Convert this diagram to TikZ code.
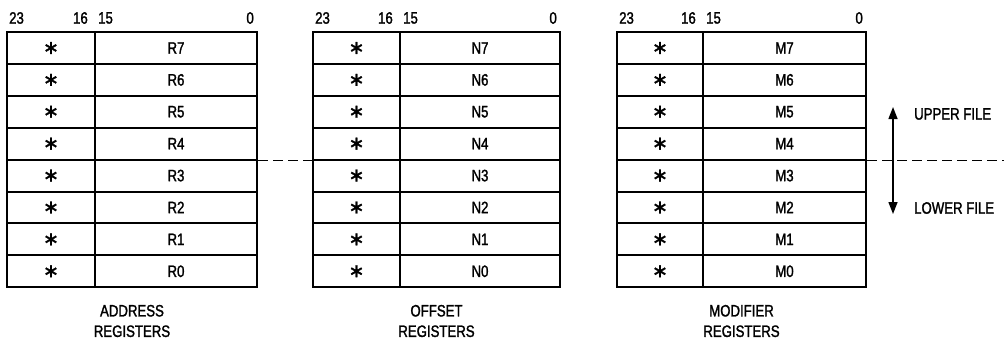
\documentclass[tikz,border=0pt]{standalone}
\usepackage{fontspec}
\setmainfont{Liberation Sans}[FakeStretch=0.8, FakeBold=1.5]
\newfontfamily\symfont{DejaVu Sans}[FakeBold=1.5]
\usetikzlibrary{arrows.meta}
\tikzset{
  cell/.style={draw, line width=2pt, inner sep=0pt, minimum height=31.9pt, font=\fontsize{16.5}{16.5}\selectfont},
  bitlbl/.style={inner sep=0pt, font=\fontsize{16.5}{16.5}\selectfont},
  caption/.style={inner sep=0pt, align=center, font=\fontsize{16.5}{20.5}\selectfont},
  filelbl/.style={inner sep=0pt, anchor=west, font=\fontsize{16.5}{16.5}\selectfont},
  divider/.style={line width=1.5pt, dash pattern=on 10pt off 5pt},
  bothway/.style={line width=1.4pt, {Triangle[length=12pt,width=9pt]}-{Triangle[length=12pt,width=9pt]}}
}
\newcommand\starmark{{\symfont\fontsize{19}{19}\selectfont ∗}}
% #1 prefix, #2 left, #3 divider, #4 right, #5 letter, #6 caption
\newcommand\regfile[6]{%
  \foreach \i in {0,...,7} {
    \pgfmathsetmacro\yc{32+(7-\i)*31.9+15.95}
    \node[cell, minimum width={#3-#2}] (#1s\i) at ({(#2+#3)/2},\yc) {\starmark};
    \node[cell, minimum width={#4-#3}] (#1r\i) at ({(#3+#4)/2},\yc) {#5\i};
  }
  \node[bitlbl, anchor=west] (#1b23) at (#2+2,18) {23};
  \node[bitlbl, anchor=east] (#1b16) at (#3-7,18) {16};
  \node[bitlbl, anchor=west] (#1b15) at (#3+3,18) {15};
  \node[bitlbl, anchor=east] (#1b0) at (#4-3,18) {0};
  \node[caption] (#1cap) at ({(#2+#4)/2},321) {#6};
}
\begin{document}
\begin{tikzpicture}[x=1pt,y=-1pt]
\useasboundingbox (0,0) rectangle (1004,341);
\regfile{a}{7}{95}{257}{R}{ADDRESS\\REGISTERS}
\regfile{o}{313}{400}{560}{N}{OFFSET\\REGISTERS}
\regfile{m}{617}{703}{866}{M}{MODIFIER\\REGISTERS}
\coordinate (rightend) at (1004,0);
\draw[divider] (ar4.south east) -- (os4.south west);
\draw[divider] (mr4.south east) -- (mr4.south east -| rightend);
\coordinate (uptip) at (893,107);
\coordinate (downtip) at (893,214);
\draw[bothway] (uptip) -- (downtip);
\node[filelbl] (upper) at (914,114) {UPPER FILE};
\node[filelbl] (lower) at (914,208) {LOWER FILE};
\end{tikzpicture}
\end{document}
